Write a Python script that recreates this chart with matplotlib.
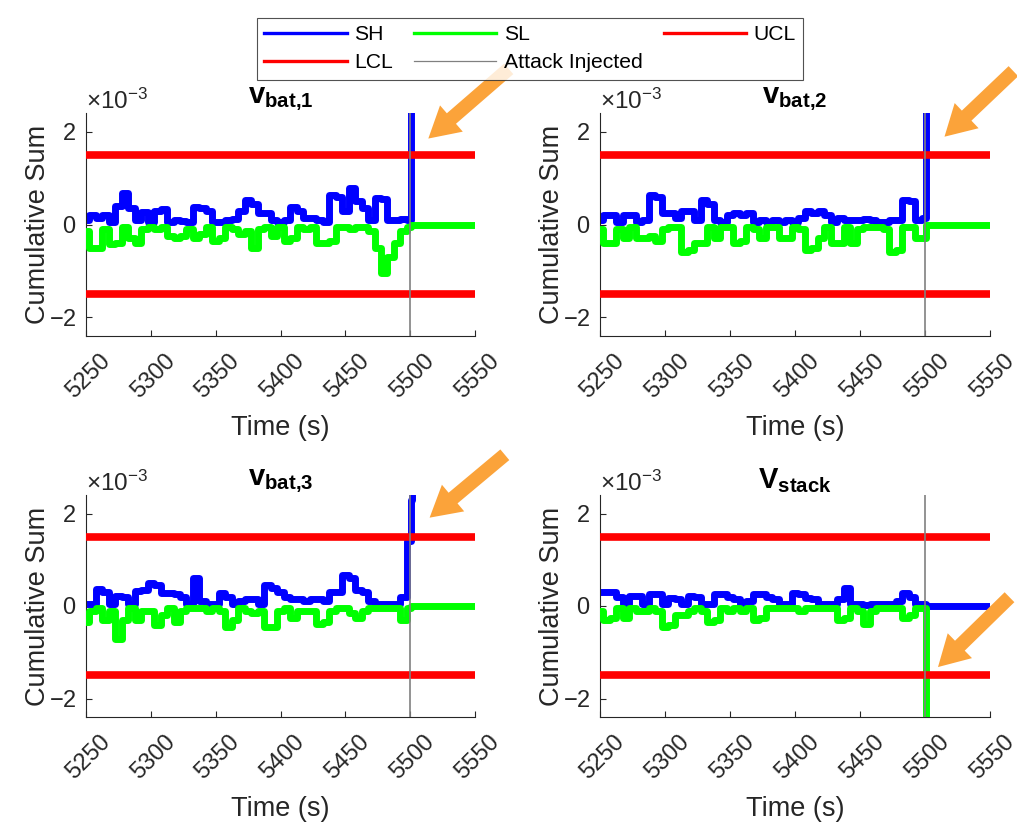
import numpy as np
import matplotlib
matplotlib.use('Agg')
import matplotlib.pyplot as plt
from matplotlib.lines import Line2D
from matplotlib.transforms import ScaledTranslation

plt.rcParams['font.family'] = ['Liberation Sans', 'DejaVu Sans']
plt.rcParams['mathtext.fontset'] = 'custom'
plt.rcParams['mathtext.rm'] = 'Liberation Sans'
plt.rcParams['mathtext.it'] = 'Liberation Sans:italic'
plt.rcParams['mathtext.bf'] = 'Liberation Sans:bold'
plt.rcParams['axes.unicode_minus'] = False

# time samples (s): before the attack every 5 s, then after injection
time_pre = list(range(5250, 5501, 5))
time_post = [5501, 5502, 5503, 5550]

# control limits (x1e-3) and attack instant
UCL = 1.5
LCL = -1.5
attack_time = 5500

titles = [r'$\mathbf{v}_{\mathbf{bat{,}1}}$', r'$\mathbf{v}_{\mathbf{bat{,}2}}$',
          r'$\mathbf{v}_{\mathbf{bat{,}3}}$', r'$\mathbf{V}_{\mathbf{stack}}$']

# cumulative sums, units of 1e-3
sh_bat1 = [0.1, 0.2, 0.15, 0.2, 0.05, 0.4, 0.67, 0.35, 0.1, 0.27, 0.05, 0.3, 0.33, 0.05, 0.1, 0.08,
           0.05, 0.37, 0.35, 0.28, 0.05, 0.05, 0.1, 0.12, 0.3, 0.52, 0.45, 0.25, 0.25, 0.1, 0.05, 0.1,
           0.37, 0.3, 0.15, 0.15, 0.1, 0.05, 0.63, 0.6, 0.3, 0.78, 0.5, 0.35, 0.1, 0.57, 0.55, 0.1,
           0.1, 0.12, 0.1]
sl_bat1 = [-0.15, -0.5, -0.5, -0.1, -0.43, -0.4, -0.05, -0.3, -0.4, -0.1, -0.05, -0.1, -0.05, -0.25,
           -0.28, -0.25, -0.1, -0.3, -0.2, -0.05, -0.35, -0.3, -0.05, -0.1, -0.2, -0.15, -0.5, -0.1,
           -0.05, -0.25, -0.05, -0.35, -0.3, -0.05, -0.1, -0.05, -0.4, -0.4, -0.35, -0.05, -0.05,
           -0.1, -0.05, -0.05, -0.15, -0.5, -1.05, -0.7, -0.4, -0.15, -0.05]
sh_bat1_post = [3.0, 6.0, 9.0, 100.0]
sl_bat1_post = [0.0, 0.0, 0.0, 0.0]

sh_bat2 = [0.1, 0.2, 0.2, 0.05, 0.2, 0.2, 0.05, 0.1, 0.63, 0.6, 0.25, 0.25, 0.15, 0.3, 0.3, 0.1,
           0.52, 0.45, 0.1, 0.05, 0.2, 0.25, 0.2, 0.25, 0.05, 0.1, 0.05, 0.1, 0.05, 0.1, 0.05, 0.15,
           0.3, 0.25, 0.3, 0.2, 0.05, 0.15, 0.1, 0.1, 0.1, 0.12, 0.1, 0.05, 0.05, 0.1, 0.1, 0.52,
           0.5, 0.1, 0.15]
sl_bat2 = [-0.1, -0.4, -0.4, -0.1, -0.3, -0.05, -0.3, -0.3, -0.25, -0.35, -0.1, -0.05, -0.05, -0.6,
           -0.55, -0.4, -0.4, -0.05, -0.3, -0.05, -0.05, -0.4, -0.35, -0.05, -0.1, -0.3, -0.05,
           -0.05, -0.3, -0.3, -0.05, -0.1, -0.55, -0.5, -0.3, -0.05, -0.4, -0.4, -0.05, -0.4, -0.1,
           -0.05, -0.05, -0.05, -0.1, -0.6, -0.55, -0.05, -0.05, -0.3, -0.3]
sh_bat2_post = [3.0, 6.0, 9.0, 100.0]
sl_bat2_post = [0.0, 0.0, 0.0, 0.0]

sh_bat3 = [0.05, 0.05, 0.37, 0.3, 0.05, 0.21, 0.2, 0.05, 0.33, 0.35, 0.5, 0.45, 0.28, 0.28, 0.25,
           0.2, 0.05, 0.6, 0.1, 0.05, 0.05, 0.28, 0.2, 0.05, 0.1, 0.15, 0.15, 0.05, 0.46, 0.4, 0.3,
           0.2, 0.15, 0.15, 0.1, 0.15, 0.15, 0.1, 0.3, 0.3, 0.66, 0.6, 0.35, 0.3, 0.1, 0.05, 0.05,
           0.05, 0.05, 0.2, 1.4]
sl_bat3 = [-0.35, -0.1, -0.05, -0.3, -0.1, -0.72, -0.3, -0.05, -0.3, -0.1, -0.1, -0.4, -0.2, -0.05,
           -0.35, -0.1, -0.05, -0.05, -0.05, -0.1, -0.05, -0.1, -0.45, -0.3, -0.05, -0.1, -0.15,
           -0.1, -0.46, -0.45, -0.1, -0.05, -0.25, -0.1, -0.1, -0.1, -0.38, -0.35, -0.1, -0.05,
           -0.05, -0.15, -0.25, -0.1, -0.05, -0.05, -0.05, -0.05, -0.05, -0.3, -0.05]
sh_bat3_post = [2.3, 3.2, 4.2, 60.0]
sl_bat3_post = [0.0, 0.0, 0.0, 0.0]

sh_stack = [0.3, 0.3, 0.3, 0.2, 0.05, 0.22, 0.22, 0.05, 0.25, 0.25, 0.05, 0.18, 0.15, 0.05, 0.22,
            0.2, 0.05, 0.05, 0.27, 0.27, 0.2, 0.15, 0.05, 0.1, 0.27, 0.25, 0.2, 0.15, 0.05, 0.05,
            0.28, 0.25, 0.18, 0.15, 0.05, 0.05, 0.05, 0.15, 0.4, 0.05, 0.05, 0.03, 0.05, 0.05, 0.05,
            0.05, 0.1, 0.28, 0.2, 0.05, 0.05]
sl_stack = [-0.1, -0.3, -0.25, -0.05, -0.25, -0.05, -0.1, -0.1, -0.05, -0.1, -0.46, -0.4, -0.2,
            -0.2, -0.1, -0.05, -0.1, -0.35, -0.3, -0.05, -0.1, -0.05, -0.1, -0.05, -0.3, -0.25,
            -0.05, -0.05, -0.05, -0.05, -0.05, -0.1, -0.05, -0.05, -0.05, -0.05, -0.05, -0.3, -0.25,
            -0.05, -0.1, -0.38, -0.1, -0.05, -0.05, -0.05, -0.05, -0.25, -0.2, -0.05, -0.05]
sh_stack_post = [0.0, 0.0, 0.0, 0.0]
sl_stack_post = [-3.0, -6.0, -9.0, -100.0]

sh_all = [sh_bat1 + sh_bat1_post, sh_bat2 + sh_bat2_post, sh_bat3 + sh_bat3_post, sh_stack + sh_stack_post]
sl_all = [sl_bat1 + sl_bat1_post, sl_bat2 + sl_bat2_post, sl_bat3 + sl_bat3_post, sl_stack + sl_stack_post]

# arrow (tip, tail) in data units, pointing at the detection
arrows = [((5514, 1.85), (5576, 3.35)),
          ((5515, 1.89), (5568, 3.30)),
          ((5515, 1.91), (5573, 3.27)),
          ((5510, -1.32), (5565, 0.19))]

W, H = 1017, 825
boxes = [(86, 113, 475, 336), (600, 113, 990, 336),
         (86, 495, 475, 717), (600, 495, 990, 717)]

DARK = '#262626'
ORANGE = '#FBA33A'


def make_axes(fig, box):
    x0, y0, x1, y1 = box
    return fig.add_axes([x0 / W, 1 - y1 / H, (x1 - x0) / W, (y1 - y0) / H])


def plot_panel(fig, ax, k):
    t = np.array(time_pre + time_post)
    sh = np.array(sh_all[k]) * 1e-3
    sl = np.array(sl_all[k]) * 1e-3
    ax.plot(t, sh, color='b', lw=5, drawstyle='steps-mid', zorder=2)
    ax.plot(t, sl, color=(0, 1, 0), lw=5, drawstyle='steps-mid', zorder=3)
    ax.plot([5250, 5550], [UCL * 1e-3] * 2, color='r', lw=5.5, zorder=4)
    ax.plot([5250, 5550], [LCL * 1e-3] * 2, color='r', lw=5.5, zorder=4)
    ax.axvline(attack_time, color='#808080', lw=1.2, zorder=5)

    ax.set_xlim(5250, 5550)
    ax.set_ylim(-2.4e-3, 2.4e-3)
    ax.set_xticks(range(5250, 5551, 50))
    ax.set_yticks([-2e-3, 0, 2e-3])
    ax.ticklabel_format(axis='y', style='sci', scilimits=(0, 0), useMathText=True)
    ax.yaxis.get_offset_text().set_fontsize(17.5)
    ax.yaxis.get_offset_text().set_color(DARK)

    for s in ['top', 'right']:
        ax.spines[s].set_visible(False)
    for s in ['left', 'bottom']:
        ax.spines[s].set_color(DARK)
        ax.spines[s].set_linewidth(0.8)
    ax.tick_params(direction='in', length=4, width=0.8, colors=DARK, labelsize=17)
    ax.tick_params(axis='y', pad=7)
    ax.tick_params(axis='x', pad=10)
    for lab in ax.get_xticklabels():
        lab.set_rotation(45)
        lab.set_ha('right')
        lab.set_va('top')
        lab.set_rotation_mode('anchor')
        lab.set_transform(lab.get_transform() + ScaledTranslation(0.13, 0, fig.dpi_scale_trans))

    ax.set_xlabel('Time (s)', fontsize=19.5, color=DARK, labelpad=9)
    ax.set_ylabel('Cumulative Sum', fontsize=19.5, color=DARK, labelpad=-2)
    ax.set_title(titles[k], fontsize=21, color='black', pad=3)

    tip, tail = arrows[k]
    ax.annotate('', xy=(tip[0], tip[1] * 1e-3), xytext=(tail[0], tail[1] * 1e-3),
                annotation_clip=False,
                arrowprops=dict(arrowstyle='simple,head_width=2.5,head_length=2.2,tail_width=1.0',
                                mutation_scale=10, color=ORANGE, lw=0, shrinkA=0, shrinkB=0))


def main():
    fig = plt.figure(figsize=(W / 100, H / 100), dpi=100)
    for k, box in enumerate(boxes):
        ax = make_axes(fig, box)
        plot_panel(fig, ax, k)

    handles = [Line2D([], [], color='b', lw=2.4), Line2D([], [], color='r', lw=2.4),
               Line2D([], [], color=(0, 1, 0), lw=2.4), Line2D([], [], color='#808080', lw=0.9),
               Line2D([], [], color='r', lw=2.4)]
    labels = ['SH', 'LCL', 'SL', 'Attack Injected', 'UCL']
    leg = fig.legend(handles, labels, ncol=3, loc='upper center',
                     bbox_to_anchor=(530 / W, 1 - 7 / H), fontsize=15.2, frameon=True,
                     fancybox=False, edgecolor=DARK, handlelength=3.9, handletextpad=0.35,
                     columnspacing=1.0, labelspacing=0.45, borderpad=0.35)
    leg.get_frame().set_linewidth(0.8)
    for txt in leg.get_texts():
        txt.set_color('black')

    fig.savefig('out.png', dpi=100)


main()
